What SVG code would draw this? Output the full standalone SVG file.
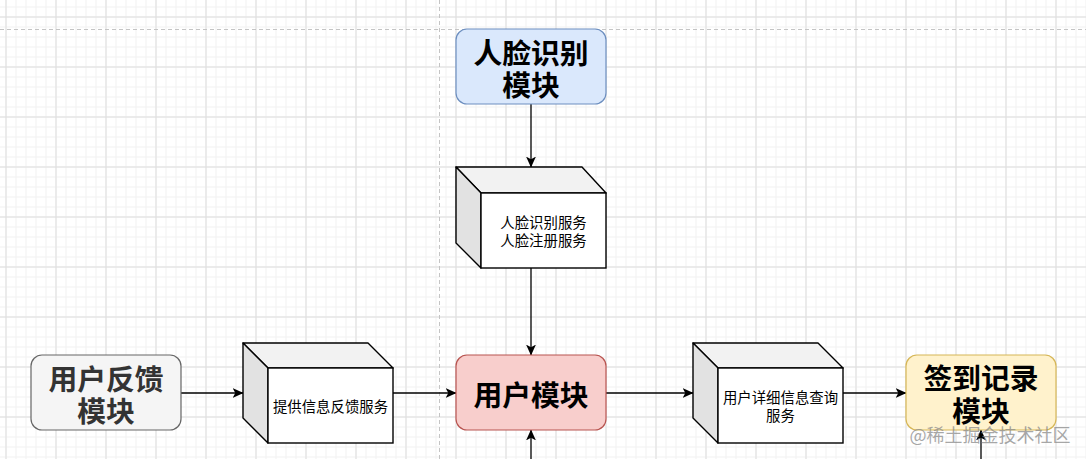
<svg xmlns="http://www.w3.org/2000/svg" width="1086" height="459" viewBox="0 0 1086 459">
<defs>
<pattern id="minor" x="5.5" y="6.5" width="10" height="10" patternUnits="userSpaceOnUse">
<path d="M0 0.5H10M0.5 0V10" fill="none" stroke="#f1f1f1" stroke-width="1"/>
</pattern>
<pattern id="major" x="5.5" y="16.5" width="50" height="50" patternUnits="userSpaceOnUse">
<path d="M0 0.5H50M0.5 0V50" fill="none" stroke="#dedede" stroke-width="1"/>
</pattern>
<marker id="arr" viewBox="0 0 10 10" refX="9.5" refY="5" markerWidth="11" markerHeight="11" markerUnits="userSpaceOnUse" orient="auto">
<path d="M0 0.5L10 5L0 9.5L2.5 5Z" fill="#000"/>
</marker>
<style>
.big{font-family:"Noto Sans CJK SC","Microsoft YaHei",sans-serif;font-weight:700;font-size:28.8px;text-anchor:middle;dominant-baseline:central}
.sm{font-family:"Noto Sans CJK SC","Microsoft YaHei",sans-serif;font-size:14.4px;text-anchor:middle;dominant-baseline:central;fill:#000}
.edge{fill:none;stroke:#000;stroke-width:1.3;marker-end:url(#arr)}
.top{fill:#f2f2f2;stroke:#000;stroke-width:1.4;stroke-linejoin:round}
.side{fill:#e2e2e2;stroke:#000;stroke-width:1.4;stroke-linejoin:round}
.front{fill:#fff;stroke:#000;stroke-width:1.4}
</style>
</defs>
<rect width="1086" height="459" fill="#fff"/>
<rect width="1086" height="459" fill="url(#minor)"/>
<rect width="1086" height="459" fill="url(#major)"/>
<path d="M0 29.5H1086" stroke="#c4c4c4" stroke-width="1" stroke-dasharray="4 3"/>
<path d="M439.5 0V459" stroke="#c4c4c4" stroke-width="1" stroke-dasharray="4 3"/>

<g id="connectors">
<path class="edge" d="M531 104V167"/>
<path class="edge" d="M531 268V355"/>
<path class="edge" d="M531 459V430"/>
<path class="edge" d="M181 393H243"/>
<path class="edge" d="M393 393H456"/>
<path class="edge" d="M606 393H693"/>
<path class="edge" d="M843 393H906"/>
<path class="edge" d="M981 459V430"/>
</g>

<g id="face-module">
<rect x="456" y="29" width="150" height="75" rx="11" fill="#dae8fc" stroke="#6c8ebf" stroke-width="1.2"/>
<text class="big"><tspan x="531" y="51">人脸识别</tspan><tspan x="531" y="83">模块</tspan></text>
</g>

<g id="face-service">
<path class="top" d="M456 167H582L606 193H481Z"/>
<path class="side" d="M456 167L481 193V268L456 243Z"/>
<rect class="front" x="481" y="193" width="125" height="75"/>
<text class="sm"><tspan x="543.5" y="221">人脸识别服务</tspan><tspan x="543.5" y="239">人脸注册服务</tspan></text>
</g>

<g id="user-module">
<rect x="456" y="355" width="150" height="75" rx="11" fill="#f8cecc" stroke="#b85450" stroke-width="1.2"/>
<text class="big" x="531" y="393">用户模块</text>
</g>

<g id="feedback-module">
<rect x="31" y="355" width="150" height="75" rx="11" fill="#f5f5f5" stroke="#666666" stroke-width="1.2"/>
<text class="big" fill="#333333"><tspan x="106" y="377">用户反馈</tspan><tspan x="106" y="409">模块</tspan></text>
</g>

<g id="feedback-service">
<path class="top" d="M243 343H368L393 368H268Z"/>
<path class="side" d="M243 343L268 368V443L243 418Z"/>
<rect class="front" x="268" y="368" width="125" height="75"/>
<text class="sm" x="330.5" y="405">提供信息反馈服务</text>
</g>

<g id="query-service">
<path class="top" d="M693 343H818L843 368H718Z"/>
<path class="side" d="M693 343L718 368V443L693 418Z"/>
<rect class="front" x="718" y="368" width="125" height="75"/>
<text class="sm"><tspan x="780.5" y="396">用户详细信息查询</tspan><tspan x="780.5" y="414">服务</tspan></text>
</g>

<g id="checkin-module">
<rect x="906" y="355" width="150" height="75" rx="11" fill="#fff2cc" stroke="#d6b656" stroke-width="1.2"/>
<text class="big"><tspan x="981" y="376">签到记录</tspan><tspan x="981" y="409">模块</tspan></text>
</g>

<text x="990" y="434" font-family="Noto Sans CJK SC, sans-serif" font-size="18" fill="#8a8a8a" fill-opacity="0.75" text-anchor="middle" dominant-baseline="central">@稀土掘金技术社区</text>
</svg>
